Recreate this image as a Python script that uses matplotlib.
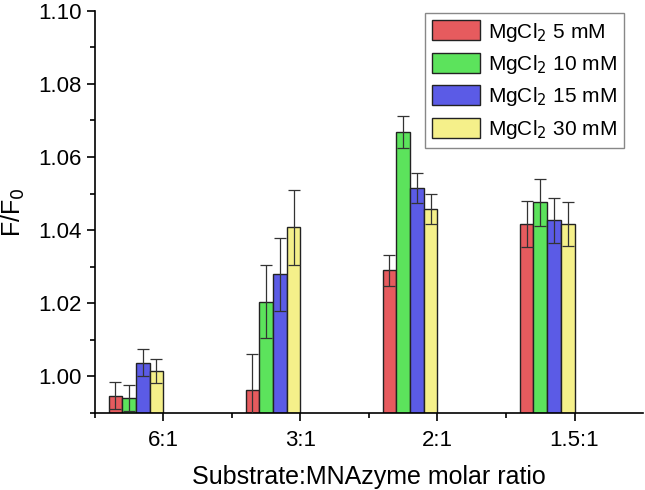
import numpy as np
import matplotlib
matplotlib.use("Agg")
import matplotlib.pyplot as plt
from matplotlib.ticker import MultipleLocator, FixedLocator, FormatStrFormatter

ratios = ["6:1", "3:1", "2:1", "1.5:1"]
labels = ["MgCl$_2$ 5 mM", "MgCl$_2$ 10 mM", "MgCl$_2$ 15 mM", "MgCl$_2$ 30 mM"]
colors = ["#e65b5e", "#5ce35c", "#5b5be6", "#f5f08a"]

mg5 = [0.9948, 0.9962, 1.0290, 1.0416]
mg10 = [0.9942, 1.0205, 1.0668, 1.0476]
mg15 = [1.0038, 1.0279, 1.0515, 1.0427]
mg30 = [1.0014, 1.0408, 1.0458, 1.0418]

err5 = [0.0036, 0.0100, 0.0042, 0.0063]
err10 = [0.0036, 0.0101, 0.0044, 0.0064]
err15 = [0.0036, 0.0101, 0.0041, 0.0061]
err30 = [0.0033, 0.0102, 0.0041, 0.0060]

values = [mg5, mg10, mg15, mg30]
errors = [err5, err10, err15, err30]

plt.rcParams['font.family'] = ['Liberation Sans', 'DejaVu Sans']

fig = plt.figure(figsize=(6.45, 4.9), dpi=100)
ax = fig.add_axes([0.147, 0.157, 0.850, 0.821])

x = np.arange(1, len(ratios) + 1)
w = 0.1
base = 0.99
for i in range(4):
    xs = x - 0.4 + i * w
    h = np.array(values[i]) - base
    ax.bar(xs, h, width=w, bottom=base, align='edge', color=colors[i],
           edgecolor='#222222', linewidth=1.0, label=labels[i], zorder=2)
    ax.errorbar(xs + w / 2, values[i], yerr=errors[i], fmt='none',
                ecolor='#333333', elinewidth=0.9, capsize=4, capthick=0.9, zorder=3)

ax.set_xlim(0.5, 4.5)
ax.set_ylim(0.99, 1.10)
ax.set_xticks(x)
ax.set_xticklabels(ratios)
ax.xaxis.set_minor_locator(FixedLocator([0.5, 1.5, 2.5, 3.5]))
ax.yaxis.set_major_locator(MultipleLocator(0.02))
ax.yaxis.set_minor_locator(MultipleLocator(0.01))
ax.yaxis.set_major_formatter(FormatStrFormatter('%.2f'))

for s in ['top', 'right']:
    ax.spines[s].set_visible(False)
for s in ['left', 'bottom']:
    ax.spines[s].set_linewidth(1.2)

ax.tick_params(axis='both', which='major', direction='out', length=6, width=1.2, labelsize=16)
ax.tick_params(axis='both', which='minor', direction='out', length=3.5, width=1.2)
ax.tick_params(axis='x', which='major', pad=6)

ax.set_xlabel("Substrate:MNAzyme molar ratio", fontsize=18, labelpad=10)
ax.set_ylabel("F/F$_0$", fontsize=18, labelpad=8)

leg = ax.legend(loc='upper right', bbox_to_anchor=(0.985, 1.02), fontsize=15,
                handlelength=2.3, handleheight=1.1, labelspacing=0.45,
                handletextpad=0.4, borderpad=0.35, fancybox=False,
                edgecolor='#888888', framealpha=1)
leg.get_frame().set_linewidth(1.0)

fig.savefig("out.png", dpi=100)
